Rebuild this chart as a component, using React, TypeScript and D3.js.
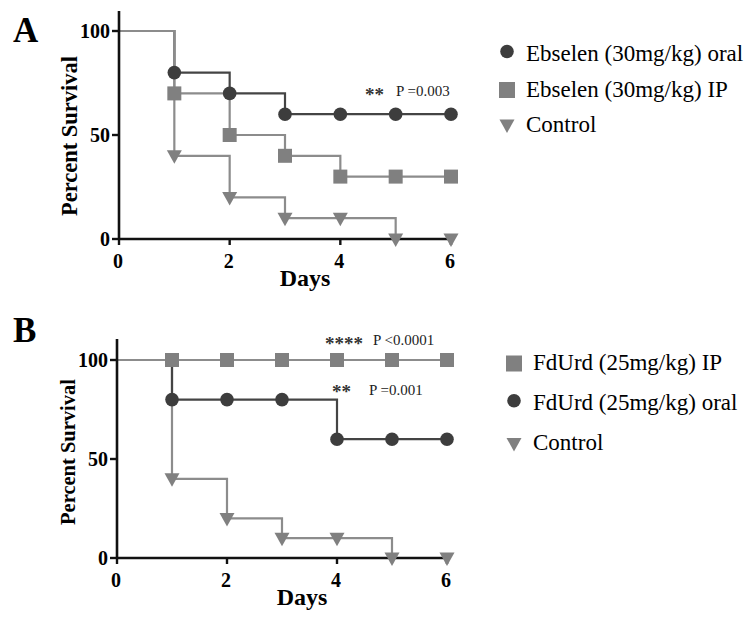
import React from "react";
import * as d3 from "d3";

const days = [0, 1, 2, 3, 4, 5, 6];
const xTicks = [0, 2, 4, 6];
const yTicks = [0, 50, 100];

// panel A
const ebselenOral = [100, 80, 70, 60, 60, 60, 60];
const ebselenIP = [100, 70, 50, 40, 30, 30, 30];
const controlA = [100, 40, 20, 10, 10, 0, 0];
const legendA = ["Ebselen (30mg/kg) oral", "Ebselen (30mg/kg) IP", "Control"];

// panel B
const fdurdIP = [100, 100, 100, 100, 100, 100, 100];
const fdurdOral = [100, 80, 80, 80, 60, 60, 60];
const controlB = [100, 40, 20, 10, 10, 0, 0];
const legendB = ["FdUrd (25mg/kg) IP", "FdUrd (25mg/kg) oral", "Control"];

const DARK = "#3d3d3d";
const GRAY = "#808080";
const LINE_DARK = "#444";
const LINE_GRAY = "#8c8c8c";
const FONT = "Liberation Serif";

type Shape = "circle" | "square" | "triangle";

const Marker = ({ shape, x, y, big }: { shape: Shape; x: number; y: number; big?: boolean }) => {
  const s = big ? 8 : 7;
  if (shape === "circle") return <circle cx={x} cy={y} r={6.8} fill={DARK} />;
  if (shape === "square")
    return <rect x={x - s} y={y - s} width={2 * s} height={2 * s} fill={GRAY} />;
  return <path d={`M${x - 7.5},${y - 5.5}L${x + 7.5},${y - 5.5}L${x},${y + 8}Z`} fill={GRAY} />;
};

interface Series {
  values: number[];
  shape: Shape;
  stroke: string;
}

const Panel = (props: {
  letter: string;
  letterY: number;
  x0: number;
  x1: number;
  y0: number;
  y1: number;
  top: number;
  titleSize: number;
  titleY: number;
  series: Series[];
}) => {
  const { x0, x1, y0, y1, top } = props;
  const xScale = d3.scaleLinear().domain([0, 6]).range([x0, x1]);
  const yScale = d3.scaleLinear().domain([0, 100]).range([y0, y1]);
  const line = d3
    .line<number>()
    .x((d, i) => xScale(days[i]))
    .y((d) => yScale(d))
    .curve(d3.curveStepAfter);

  return (
    <g>
      <text x={13} y={props.letterY} fontFamily={FONT} fontSize={35} fontWeight="bold">
        {props.letter}
      </text>
      {props.series.map((s, k) => (
        <path key={k} d={line(s.values) || ""} fill="none" stroke={s.stroke} strokeWidth={2.2} />
      ))}
      {/* axes */}
      <line x1={x0} x2={x0} y1={top} y2={y0} stroke="#111" strokeWidth={2.6} />
      <line x1={x0 - 1} x2={x1 + 1} y1={y0} y2={y0} stroke="#111" strokeWidth={2.6} />
      {yTicks.map((t) => (
        <g key={t}>
          <line x1={x0 - 7} x2={x0} y1={yScale(t)} y2={yScale(t)} stroke="#111" strokeWidth={2.4} />
          <text x={x0 - 9} y={yScale(t)} dy="0.34em" textAnchor="end" fontFamily={FONT} fontSize={20} fontWeight="bold">
            {t}
          </text>
        </g>
      ))}
      {xTicks.map((t) => (
        <g key={t}>
          <line x1={xScale(t)} x2={xScale(t)} y1={y0} y2={y0 + 6} stroke="#111" strokeWidth={2.4} />
          <text x={xScale(t) - 1} y={y0 + 29} textAnchor="middle" fontFamily={FONT} fontSize={20} fontWeight="bold">
            {t}
          </text>
        </g>
      ))}
      <text x={(x0 + x1) / 2 + 20} y={y0 + 47} textAnchor="middle" fontFamily={FONT} fontSize={24} fontWeight="bold">
        Days
      </text>
      <text
        transform={`translate(${x0 - 42},${props.titleY}) rotate(-90)`}
        textAnchor="middle"
        fontFamily={FONT}
        fontSize={props.titleSize}
        fontWeight="bold"
      >
        Percent Survival
      </text>
      {props.series.map((s, k) =>
        s.values.map((v, i) =>
          i === 0 ? null : <Marker key={`${k}-${i}`} shape={s.shape} x={xScale(days[i])} y={yScale(v)} />
        )
      )}
    </g>
  );
};

const markerOffset: Record<Shape, number> = { circle: -9.5, square: -6.5, triangle: -7 };

const Legend = (props: { x: number; y: number; step: number; labels: string[]; shapes: Shape[] }) => (
  <g>
    {props.labels.map((l, i) => {
      const base = props.y + i * props.step;
      return (
        <g key={l}>
          <Marker shape={props.shapes[i]} x={props.x} y={base + markerOffset[props.shapes[i]]} big />
          <text x={props.x + 19} y={base} fontFamily={FONT} fontSize={23}>
            {l}
          </text>
        </g>
      );
    })}
  </g>
);

export default function App() {
  return (
    <div style={{ position: "absolute", left: 0, top: 0 }}>
      <svg width={753} height={630} style={{ display: "block", background: "#fff", fontFamily: FONT }}>
        <Panel
          letter="A"
          letterY={42}
          x0={119}
          x1={451}
          y0={239}
          y1={31}
          top={11}
          titleSize={22.5}
          titleY={136}
          series={[
            { values: ebselenOral, shape: "circle", stroke: LINE_DARK },
            { values: ebselenIP, shape: "square", stroke: LINE_GRAY },
            { values: controlA, shape: "triangle", stroke: LINE_GRAY },
          ]}
        />
        <text x={365} y={101} fontFamily={FONT} fontSize={19} fontWeight="bold" fill="#333">**</text>
        <text x={396} y={96} fontFamily={FONT} fontSize={15} fill="#222">P =0.003</text>
        <Legend x={507} y={61} step={35.5} labels={legendA} shapes={["circle", "square", "triangle"]} />

        <Panel
          letter="B"
          letterY={342}
          x0={117}
          x1={447}
          y0={558}
          y1={360}
          top={339}
          titleSize={20.5}
          titleY={452}
          series={[
            { values: controlB, shape: "triangle", stroke: LINE_GRAY },
            { values: fdurdOral, shape: "circle", stroke: LINE_DARK },
            { values: fdurdIP, shape: "square", stroke: LINE_GRAY },
          ]}
        />
        <text x={325} y={350} fontFamily={FONT} fontSize={19} fontWeight="bold" fill="#333">****</text>
        <text x={373} y={345} fontFamily={FONT} fontSize={15} fill="#222">P &lt;0.0001</text>
        <text x={332} y={398} fontFamily={FONT} fontSize={19} fontWeight="bold" fill="#333">**</text>
        <text x={369} y={395} fontFamily={FONT} fontSize={15} fill="#222">P =0.001</text>
        <Legend x={514} y={370} step={40.2} labels={legendB} shapes={["square", "circle", "triangle"]} />
      </svg>
    </div>
  );
}
